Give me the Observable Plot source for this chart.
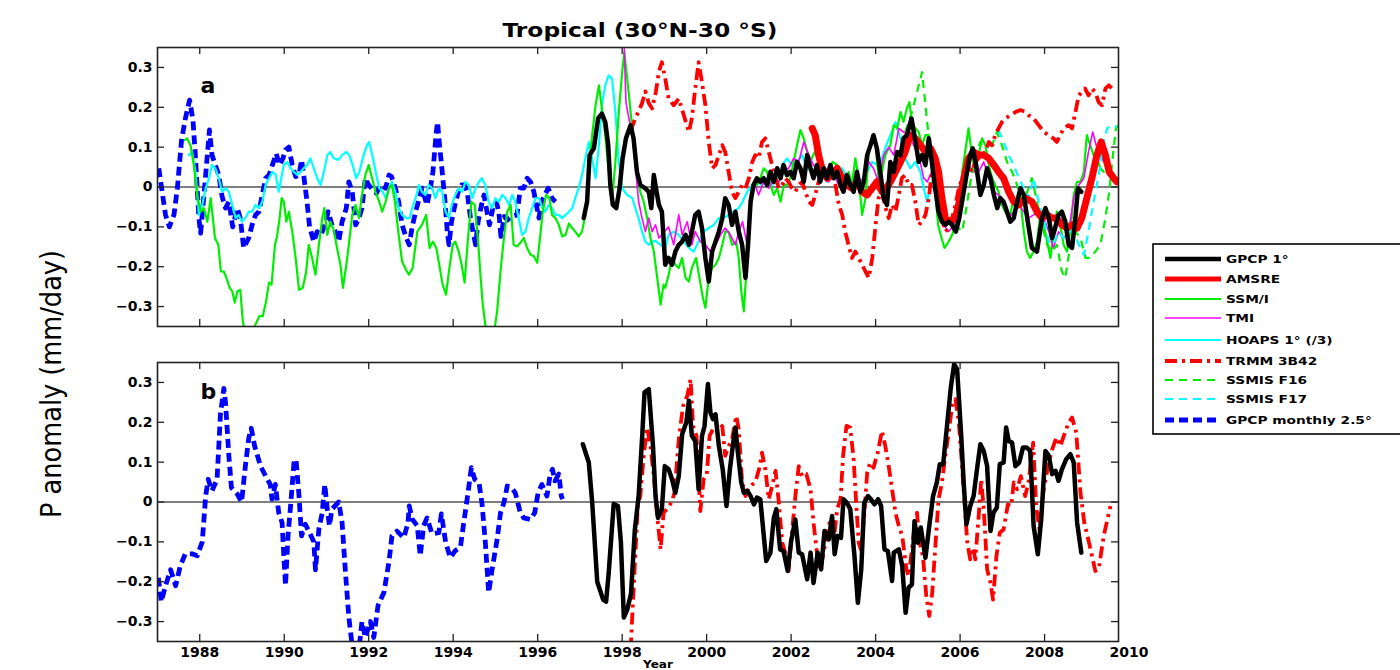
<!DOCTYPE html>
<html><head><meta charset="utf-8">
<script src="https://cdn.jsdelivr.net/npm/d3@7"></script>
<script src="https://cdn.jsdelivr.net/npm/@observablehq/plot@0.6"></script>
<style>
html,body{margin:0;padding:0;background:#fff;}
#wrap{position:relative;width:1400px;height:670px;overflow:hidden;background:#fff;}
#wrap > svg{position:absolute;left:0;}
</style></head><body><div id="wrap"></div>
<script>
// ---------- tick labels ----------
const xTicks = [1988,1990,1992,1994,1996,1998,2000,2002,2004,2006,2008,2010];
const yTicks = [-0.3,-0.2,-0.1,0,0.1,0.2,0.3];

// ---------- panel a : series [year, anomaly] ----------
const gpcp25A = [[1987.03,0.047],[1987.11,-0.012],[1987.19,-0.07],[1987.28,-0.1],[1987.39,-0.07],[1987.47,-0.003],[1987.57,0.118],[1987.66,0.172],[1987.76,0.218],[1987.84,0.168],[1987.9,0.072],[1987.98,-0.078],[1988.02,-0.116],[1988.1,-0.02],[1988.18,0.08],[1988.23,0.143],[1988.29,0.08],[1988.37,0.055],[1988.45,0.03],[1988.53,-0.024],[1988.61,-0.053],[1988.69,-0.037],[1988.78,-0.1],[1988.89,-0.053],[1988.96,-0.078],[1989.04,-0.153],[1989.16,-0.128],[1989.24,-0.095],[1989.32,-0.07],[1989.4,-0.062],[1989.48,-0.02],[1989.56,0.022],[1989.64,0.03],[1989.72,0.055],[1989.81,0.084],[1989.89,0.055],[1989.97,0.072],[1990.03,0.093],[1990.11,0.1],[1990.19,0.055],[1990.27,0.026],[1990.35,0.03],[1990.41,0.068],[1990.46,0.03],[1990.54,-0.037],[1990.6,-0.1],[1990.7,-0.137],[1990.78,-0.112],[1990.87,-0.12],[1990.96,-0.095],[1991.04,-0.062],[1991.13,-0.095],[1991.21,-0.112],[1991.29,-0.137],[1991.37,-0.087],[1991.47,-0.053],[1991.53,0.013],[1991.61,-0.012],[1991.69,-0.095],[1991.77,-0.078],[1991.84,-0.053],[1991.92,0.022],[1992.0,0.005],[1992.1,-0.008],[1992.18,-0.016],[1992.28,0.005],[1992.4,-0.003],[1992.48,0.03],[1992.54,0.026],[1992.63,-0.003],[1992.71,-0.037],[1992.79,-0.095],[1992.89,-0.128],[1992.96,-0.145],[1993.03,-0.1],[1993.11,-0.062],[1993.2,-0.028],[1993.26,-0.003],[1993.33,-0.028],[1993.38,-0.045],[1993.46,-0.003],[1993.52,0.038],[1993.56,0.088],[1993.6,0.138],[1993.63,0.163],[1993.67,0.113],[1993.74,0.038],[1993.8,-0.028],[1993.86,-0.112],[1993.9,-0.145],[1993.96,-0.087],[1994.04,-0.045],[1994.12,-0.012],[1994.2,0.005],[1994.27,0.005],[1994.33,-0.012],[1994.41,-0.078],[1994.47,-0.112],[1994.53,-0.145],[1994.59,-0.087],[1994.67,-0.045],[1994.73,-0.02],[1994.8,-0.062],[1994.86,-0.095],[1994.94,-0.053],[1995.02,-0.037],[1995.08,-0.062],[1995.13,-0.124],[1995.21,-0.074],[1995.28,-0.083],[1995.38,-0.074],[1995.51,-0.07],[1995.59,-0.003],[1995.67,-0.003],[1995.75,0.022],[1995.83,0.013],[1995.91,-0.012],[1995.97,-0.045],[1996.03,-0.078],[1996.09,-0.037],[1996.17,-0.02],[1996.25,-0.003],[1996.34,-0.028],[1996.42,-0.037]];

const ssmiA = [[1987.65,0.118],[1987.7,0.122],[1987.78,0.105],[1987.86,0.055],[1987.94,-0.02],[1988.02,-0.062],[1988.1,-0.053],[1988.18,-0.087],[1988.26,-0.028],[1988.31,-0.078],[1988.36,-0.128],[1988.44,-0.145],[1988.5,-0.212],[1988.57,-0.212],[1988.63,-0.228],[1988.71,-0.253],[1988.77,-0.262],[1988.83,-0.29],[1988.89,-0.262],[1988.96,-0.258],[1989.02,-0.337],[1989.08,-0.37],[1989.2,-0.37],[1989.32,-0.345],[1989.41,-0.324],[1989.49,-0.324],[1989.57,-0.287],[1989.64,-0.24],[1989.7,-0.245],[1989.78,-0.145],[1989.83,-0.124],[1989.89,-0.078],[1989.94,-0.028],[1989.99,-0.037],[1990.05,-0.087],[1990.11,-0.062],[1990.19,-0.112],[1990.27,-0.178],[1990.35,-0.258],[1990.44,-0.253],[1990.52,-0.212],[1990.58,-0.145],[1990.66,-0.178],[1990.74,-0.22],[1990.82,-0.145],[1990.9,-0.078],[1990.95,-0.053],[1991.02,-0.12],[1991.09,-0.087],[1991.17,-0.107],[1991.25,-0.153],[1991.33,-0.195],[1991.39,-0.253],[1991.47,-0.195],[1991.53,-0.145],[1991.61,-0.07],[1991.69,-0.045],[1991.77,-0.078],[1991.84,-0.02],[1991.92,0.03],[1992.0,0.055],[1992.08,0.022],[1992.16,-0.012],[1992.25,-0.037],[1992.32,-0.062],[1992.4,-0.037],[1992.48,-0.003],[1992.55,0.005],[1992.62,-0.037],[1992.7,-0.112],[1992.79,-0.187],[1992.87,-0.205],[1992.95,-0.22],[1993.04,-0.203],[1993.15,-0.112],[1993.26,-0.095],[1993.36,-0.07],[1993.44,-0.153],[1993.52,-0.137],[1993.6,-0.153],[1993.67,-0.195],[1993.75,-0.245],[1993.83,-0.27],[1993.91,-0.203],[1993.99,-0.145],[1994.05,-0.137],[1994.13,-0.162],[1994.2,-0.195],[1994.27,-0.24],[1994.35,-0.128],[1994.43,-0.037],[1994.51,-0.045],[1994.59,-0.137],[1994.65,-0.228],[1994.7,-0.295],[1994.76,-0.345],[1994.84,-0.37],[1994.96,-0.37],[1995.04,-0.312],[1995.12,-0.212],[1995.2,-0.128],[1995.28,-0.062],[1995.36,-0.045],[1995.43,-0.145],[1995.51,-0.149],[1995.59,-0.14],[1995.67,-0.128],[1995.75,-0.153],[1995.83,-0.17],[1995.91,-0.174],[1995.99,-0.19],[1996.07,-0.112],[1996.12,-0.062],[1996.2,-0.02],[1996.28,-0.028],[1996.34,-0.07],[1996.42,-0.078],[1996.5,-0.095],[1996.58,-0.124],[1996.66,-0.12],[1996.74,-0.091],[1996.82,-0.103],[1996.89,-0.112],[1996.97,-0.124],[1997.05,-0.112],[1997.13,-0.07],[1997.21,0.047],[1997.29,0.13],[1997.37,0.205],[1997.45,0.255],[1997.52,0.197],[1997.6,0.13],[1997.68,0.038],[1997.76,-0.037],[1997.84,0.063],[1997.92,0.188],[1998.0,0.288],[1998.05,0.338],[1998.12,0.272],[1998.2,0.188],[1998.27,0.113],[1998.35,0.038],[1998.43,-0.012],[1998.51,-0.037],[1998.59,-0.078],[1998.67,-0.128],[1998.75,-0.162],[1998.83,-0.228],[1998.91,-0.295],[1998.98,-0.245],[1999.02,-0.253],[1999.1,-0.22],[1999.18,-0.178],[1999.26,-0.195],[1999.34,-0.203],[1999.42,-0.178],[1999.5,-0.228],[1999.58,-0.237],[1999.65,-0.203],[1999.75,-0.178],[1999.83,-0.228],[1999.91,-0.278],[1999.97,-0.303],[2000.05,-0.228],[2000.13,-0.203],[2000.21,-0.195],[2000.29,-0.178],[2000.37,-0.145],[2000.44,-0.112],[2000.52,-0.112],[2000.6,-0.145],[2000.7,-0.137],[2000.76,-0.178],[2000.82,-0.262],[2000.88,-0.312],[2000.96,-0.178],[2001.04,-0.037],[2001.11,-0.003],[2001.19,0.005],[2001.27,0.022],[2001.35,0.047],[2001.43,0.038],[2001.51,0.005],[2001.59,-0.02],[2001.67,-0.003],[2001.75,-0.037],[2001.83,0.005],[2001.9,0.005],[2001.98,0.022],[2002.06,0.063],[2002.14,0.105],[2002.22,0.143],[2002.3,0.122],[2002.38,0.088],[2002.45,0.063],[2002.56,0.088],[2002.65,0.105],[2002.73,0.063],[2002.83,0.022],[2002.91,0.038],[2002.98,0.063],[2003.09,0.055],[2003.19,0.038],[2003.28,-0.003],[2003.36,0.038],[2003.44,0.005],[2003.52,0.072],[2003.6,0.022],[2003.68,-0.07],[2003.76,-0.028],[2003.84,0.088],[2003.92,0.122],[2004.0,0.105],[2004.07,0.022],[2004.15,0.038],[2004.23,0.08],[2004.35,0.105],[2004.43,0.155],[2004.51,0.147],[2004.59,0.188],[2004.66,0.163],[2004.74,0.197],[2004.8,0.213],[2004.86,0.163],[2004.94,0.147],[2005.02,0.138],[2005.1,0.105],[2005.18,0.13],[2005.26,0.13],[2005.33,0.063],[2005.41,-0.012],[2005.48,-0.095],[2005.56,-0.128],[2005.63,-0.153],[2005.73,-0.137],[2005.81,-0.12],[2005.89,-0.095],[2005.97,-0.045],[2006.05,0.038],[2006.12,0.088],[2006.2,0.147],[2006.27,0.088],[2006.35,0.038],[2006.42,0.072],[2006.52,0.122],[2006.6,0.105],[2006.68,0.055],[2006.76,0.022],[2006.83,0.005],[2006.91,-0.012],[2006.99,-0.045],[2007.07,-0.062],[2007.17,-0.078],[2007.27,-0.028],[2007.35,-0.045],[2007.43,-0.037],[2007.51,-0.112],[2007.58,-0.162],[2007.66,-0.178],[2007.74,-0.162],[2007.82,-0.137],[2007.9,-0.07],[2007.98,-0.095],[2008.06,-0.137],[2008.14,-0.178],[2008.22,-0.112],[2008.29,-0.062],[2008.37,-0.095],[2008.45,-0.145],[2008.53,-0.162],[2008.61,-0.112],[2008.69,-0.02],[2008.77,0.013],[2008.85,0.013],[2008.93,0.038],[2009.0,0.13],[2009.08,0.105],[2009.16,0.08],[2009.24,0.072],[2009.32,0.047],[2009.4,0.038]];

const hoapsA = [[1987.74,0.08],[1987.82,0.088],[1987.9,0.038],[1987.98,-0.07],[1988.06,-0.045],[1988.14,-0.003],[1988.22,0.022],[1988.29,0.055],[1988.37,0.047],[1988.45,0.022],[1988.53,-0.012],[1988.61,-0.003],[1988.69,-0.012],[1988.77,-0.045],[1988.85,-0.078],[1988.92,-0.07],[1989.0,-0.087],[1989.08,-0.078],[1989.16,-0.062],[1989.24,-0.062],[1989.32,-0.045],[1989.4,-0.053],[1989.48,-0.037],[1989.56,0.005],[1989.64,0.022],[1989.72,0.038],[1989.8,0.03],[1989.87,-0.012],[1989.93,0.022],[1989.99,0.055],[1990.07,0.063],[1990.15,0.047],[1990.23,0.038],[1990.31,0.03],[1990.39,0.038],[1990.46,0.047],[1990.54,0.055],[1990.62,0.072],[1990.7,0.047],[1990.78,0.022],[1990.86,0.005],[1990.94,0.038],[1991.02,0.08],[1991.09,0.088],[1991.17,0.072],[1991.28,0.068],[1991.37,0.08],[1991.47,0.088],[1991.54,0.08],[1991.62,0.055],[1991.7,0.022],[1991.78,0.038],[1991.88,0.08],[1991.96,0.105],[1992.01,0.113],[1992.1,0.072],[1992.18,0.03],[1992.25,-0.003],[1992.33,-0.012],[1992.41,-0.028],[1992.48,-0.003],[1992.55,0.013],[1992.63,-0.012],[1992.71,-0.053],[1992.79,-0.07],[1992.89,-0.078],[1992.97,-0.078],[1993.03,-0.053],[1993.11,-0.028],[1993.19,0.005],[1993.26,-0.012],[1993.34,-0.02],[1993.42,0.005],[1993.5,-0.003],[1993.58,-0.028],[1993.66,-0.003],[1993.74,-0.012],[1993.82,-0.062],[1993.9,-0.078],[1993.97,-0.045],[1994.05,-0.02],[1994.13,-0.003],[1994.21,-0.012],[1994.29,0.013],[1994.37,0.005],[1994.45,-0.028],[1994.53,-0.003],[1994.61,0.013],[1994.68,0.022],[1994.76,0.005],[1994.84,-0.037],[1994.92,-0.053],[1995.0,-0.028],[1995.08,-0.037],[1995.16,-0.02],[1995.24,-0.028],[1995.32,-0.045],[1995.4,-0.02],[1995.47,-0.037],[1995.55,-0.078],[1995.63,-0.12],[1995.71,-0.112],[1995.79,-0.078],[1995.87,-0.053],[1995.95,-0.028],[1996.03,-0.028],[1996.11,-0.053],[1996.18,-0.062],[1996.26,-0.045],[1996.34,-0.053],[1996.42,-0.07],[1996.5,-0.07],[1996.58,-0.078],[1996.66,-0.07],[1996.74,-0.062],[1996.82,-0.053],[1996.89,-0.028],[1996.97,-0.003],[1997.05,0.03],[1997.13,0.072],[1997.21,0.113],[1997.29,0.072],[1997.37,0.022],[1997.45,0.105],[1997.52,0.205],[1997.6,0.255],[1997.68,0.28],[1997.76,0.272],[1997.84,0.188],[1997.92,0.063],[1998.0,-0.003],[1998.12,-0.02],[1998.24,-0.028],[1998.31,-0.053],[1998.39,-0.078],[1998.47,-0.112],[1998.55,-0.137],[1998.63,-0.145],[1998.71,-0.137],[1998.79,-0.135],[1998.91,-0.145],[1999.02,-0.153],[1999.1,-0.12],[1999.22,-0.112],[1999.34,-0.12],[1999.46,-0.137],[1999.58,-0.153],[1999.69,-0.162],[1999.81,-0.137],[1999.93,-0.112],[2000.05,-0.103],[2000.17,-0.095],[2000.29,-0.078],[2000.4,-0.078],[2000.52,-0.07],[2000.64,-0.062],[2000.76,-0.053],[2000.85,-0.037],[2000.96,-0.012],[2001.08,0.005],[2001.19,0.013],[2001.31,0.005],[2001.43,0.022],[2001.55,0.005],[2001.67,0.022],[2001.79,0.055],[2001.9,0.072],[2002.02,0.055],[2002.14,0.063],[2002.26,0.08],[2002.38,0.047],[2002.5,0.038],[2002.61,0.03],[2002.73,0.038],[2002.85,0.013],[2002.97,0.03],[2003.09,0.022],[2003.21,0.047],[2003.32,0.022],[2003.44,0.005],[2003.56,0.03],[2003.68,0.013],[2003.8,0.038],[2003.92,0.063],[2004.03,0.055],[2004.15,0.072],[2004.27,0.11],[2004.35,0.13],[2004.47,0.163],[2004.59,0.122],[2004.7,0.072],[2004.82,0.047],[2004.94,0.063],[2005.06,0.038],[2005.14,-0.003],[2005.22,-0.037],[2005.3,0.005],[2005.38,0.022]];

const tmiA = [[1998.05,0.347],[1998.09,0.213],[1998.16,0.172],[1998.24,0.13],[1998.31,0.055],[1998.39,-0.037],[1998.47,-0.078],[1998.55,-0.112],[1998.63,-0.078],[1998.71,-0.112],[1998.79,-0.095],[1998.87,-0.128],[1998.94,-0.12],[1999.1,-0.1],[1999.22,-0.145],[1999.34,-0.07],[1999.42,-0.12],[1999.54,-0.087],[1999.65,-0.145],[1999.73,-0.112],[1999.85,-0.137],[1999.97,-0.145],[2000.09,-0.162],[2000.21,-0.145],[2000.33,-0.12],[2000.44,-0.103],[2000.56,-0.12],[2000.68,-0.145],[2000.76,-0.112],[2000.85,-0.087],[2000.96,-0.145],[2001.08,-0.02],[2001.15,0.005],[2001.23,-0.02],[2001.35,0.013],[2001.47,-0.003],[2001.59,0.022],[2001.71,0.013],[2001.82,0.038],[2001.94,0.047],[2002.06,0.072],[2002.18,0.063],[2002.3,0.113],[2002.42,0.08],[2002.53,0.055],[2002.65,0.038],[2002.77,0.038],[2002.89,0.013],[2003.01,0.03],[2003.13,0.005],[2003.24,-0.003],[2003.36,0.005],[2003.48,-0.012],[2003.6,0.022],[2003.72,0.013],[2003.84,0.063],[2003.95,0.047],[2004.07,0.013],[2004.19,0.08],[2004.31,0.1],[2004.43,0.08],[2004.55,0.147],[2004.66,0.138],[2004.78,0.13],[2004.9,0.105],[2005.02,0.08],[2005.14,0.022],[2005.22,0.013],[2005.33,0.038],[2005.41,0.005],[2005.49,-0.045],[2005.61,-0.095],[2005.73,-0.112],[2005.85,-0.095],[2005.97,-0.062],[2006.09,0.005],[2006.2,0.055],[2006.32,0.038],[2006.44,0.038],[2006.56,0.063],[2006.68,0.022],[2006.8,-0.012],[2006.91,-0.02],[2007.03,-0.045],[2007.15,-0.078],[2007.27,-0.062],[2007.39,-0.045],[2007.51,-0.062],[2007.62,-0.078],[2007.74,-0.07],[2007.86,-0.053],[2007.98,-0.078],[2008.1,-0.112],[2008.21,-0.153],[2008.33,-0.112],[2008.45,-0.128],[2008.57,-0.112],[2008.69,-0.028],[2008.81,0.005],[2008.93,0.022],[2009.04,0.088],[2009.14,0.138],[2009.24,0.097],[2009.36,0.072],[2009.48,0.047],[2009.6,0.038]];

const trmmA = [[1998.2,0.14],[1998.3,0.17],[1998.39,0.19],[1998.47,0.21],[1998.55,0.24],[1998.63,0.21],[1998.71,0.197],[1998.8,0.24],[1998.87,0.29],[1998.94,0.313],[1999.02,0.272],[1999.1,0.222],[1999.22,0.205],[1999.34,0.222],[1999.46,0.18],[1999.58,0.138],[1999.65,0.172],[1999.73,0.247],[1999.81,0.313],[1999.89,0.263],[1999.97,0.205],[2000.05,0.113],[2000.13,0.047],[2000.21,0.055],[2000.29,0.08],[2000.37,0.105],[2000.44,0.088],[2000.52,0.038],[2000.6,-0.012],[2000.68,-0.028],[2000.76,-0.012],[2000.84,0.005],[2000.92,-0.003],[2001.0,0.022],[2001.08,0.063],[2001.15,0.08],[2001.23,0.072],[2001.31,0.113],[2001.39,0.122],[2001.47,0.088],[2001.55,0.055],[2001.63,0.022],[2001.71,-0.003],[2001.79,0.005],[2001.86,0.022],[2001.94,0.013],[2002.02,-0.003],[2002.1,-0.012],[2002.18,0.005],[2002.26,0.013],[2002.34,-0.012],[2002.42,-0.037],[2002.5,-0.045],[2002.57,-0.02],[2002.65,0.013],[2002.73,0.038],[2002.81,0.055],[2002.89,0.038],[2002.97,0.047],[2003.05,0.005],[2003.13,-0.045],[2003.21,-0.07],[2003.28,-0.112],[2003.36,-0.145],[2003.44,-0.178],[2003.52,-0.162],[2003.6,-0.178],[2003.68,-0.195],[2003.76,-0.212],[2003.84,-0.228],[2003.92,-0.178],[2004.0,-0.095],[2004.07,-0.028],[2004.15,-0.012],[2004.23,-0.05],[2004.31,-0.078],[2004.39,-0.045],[2004.47,-0.062],[2004.55,-0.02],[2004.62,0.022],[2004.7,0.03],[2004.78,0.005],[2004.86,0.005],[2004.94,-0.037],[2005.02,-0.095],[2005.1,-0.087],[2005.18,-0.07],[2005.26,-0.028],[2005.33,0.038],[2005.41,0.047],[2005.49,0.005],[2005.57,-0.078],[2005.65,-0.112],[2005.73,-0.103],[2005.81,-0.078],[2005.89,-0.045],[2005.97,-0.003],[2006.05,0.022],[2006.12,0.038],[2006.2,0.055],[2006.28,0.038],[2006.36,0.063],[2006.44,0.072],[2006.52,0.08],[2006.6,0.088],[2006.68,0.113],[2006.76,0.105],[2006.83,0.13],[2006.91,0.147],[2006.99,0.163],[2007.07,0.172],[2007.19,0.18],[2007.31,0.188],[2007.43,0.193],[2007.55,0.188],[2007.62,0.18],[2007.74,0.172],[2007.86,0.155],[2007.98,0.138],[2008.1,0.13],[2008.21,0.122],[2008.29,0.113],[2008.37,0.13],[2008.45,0.147],[2008.57,0.155],[2008.65,0.147],[2008.73,0.188],[2008.81,0.23],[2008.88,0.238],[2008.96,0.247],[2009.04,0.23],[2009.12,0.247],[2009.2,0.238],[2009.28,0.213],[2009.36,0.205],[2009.44,0.247],[2009.52,0.255],[2009.6,0.247]];

const amsreA = [[2002.5,0.147],[2002.57,0.13],[2002.65,0.08],[2002.73,0.047],[2002.85,0.022],[2002.97,0.03],[2003.09,0.047],[2003.21,0.022],[2003.32,0.005],[2003.44,-0.003],[2003.56,0.013],[2003.68,-0.012],[2003.8,-0.02],[2003.92,-0.003],[2004.03,0.013],[2004.15,-0.012],[2004.27,0.0],[2004.35,0.013],[2004.47,0.038],[2004.59,0.063],[2004.7,0.088],[2004.82,0.13],[2004.94,0.122],[2005.06,0.105],[2005.18,0.088],[2005.3,0.097],[2005.41,0.072],[2005.49,0.038],[2005.57,-0.028],[2005.65,-0.078],[2005.77,-0.087],[2005.89,-0.078],[2005.98,-0.037],[2006.09,0.022],[2006.2,0.072],[2006.32,0.088],[2006.44,0.08],[2006.56,0.08],[2006.68,0.072],[2006.8,0.055],[2006.91,0.038],[2007.03,0.022],[2007.15,-0.012],[2007.27,-0.037],[2007.39,-0.045],[2007.55,-0.028],[2007.7,-0.037],[2007.82,-0.062],[2007.94,-0.078],[2008.06,-0.07],[2008.18,-0.078],[2008.29,-0.078],[2008.41,-0.095],[2008.53,-0.103],[2008.65,-0.095],[2008.77,-0.103],[2008.88,-0.078],[2009.0,-0.028],[2009.12,0.022],[2009.24,0.08],[2009.34,0.113],[2009.44,0.08],[2009.53,0.038],[2009.64,0.022],[2009.71,0.013]];

const f16A = [[2004.7,0.138],[2004.86,0.188],[2004.98,0.238],[2005.1,0.288],[2005.18,0.205],[2005.26,0.122],[2005.38,0.047],[2005.49,-0.02],[2005.61,-0.078],[2005.73,-0.095],[2005.89,-0.095],[2006.05,-0.112],[2006.16,-0.045],[2006.27,0.03],[2006.36,0.08],[2006.48,0.113],[2006.6,0.08],[2006.76,0.105],[2006.87,0.138],[2006.99,0.105],[2007.11,0.063],[2007.23,0.038],[2007.35,0.005],[2007.47,-0.037],[2007.59,-0.012],[2007.7,0.022],[2007.82,-0.037],[2007.94,-0.095],[2008.06,-0.145],[2008.18,-0.162],[2008.29,-0.145],[2008.41,-0.212],[2008.49,-0.228],[2008.61,-0.145],[2008.73,-0.112],[2008.85,-0.128],[2008.97,-0.178],[2009.08,-0.178],[2009.2,-0.162],[2009.32,-0.145],[2009.44,-0.078],[2009.53,-0.012],[2009.61,0.072],[2009.69,0.147],[2009.74,0.155]];

const f17A = [[2006.91,0.143],[2007.03,0.113],[2007.15,0.08],[2007.27,0.055],[2007.39,0.022],[2007.51,-0.003],[2007.62,-0.028],[2007.74,0.022],[2007.86,-0.037],[2007.98,-0.078],[2008.1,-0.137],[2008.21,-0.145],[2008.33,-0.112],[2008.45,-0.128],[2008.57,-0.112],[2008.69,-0.112],[2008.81,-0.145],[2008.93,-0.17],[2009.04,-0.112],[2009.16,-0.037],[2009.28,0.03],[2009.4,0.113],[2009.48,0.147],[2009.6,0.155],[2009.71,0.15]];

const gpcp1A = [[1997.09,-0.078],[1997.17,-0.037],[1997.23,0.08],[1997.33,0.097],[1997.43,0.172],[1997.52,0.184],[1997.6,0.163],[1997.67,0.105],[1997.72,0.005],[1997.78,-0.045],[1997.86,-0.053],[1997.94,-0.003],[1998.01,0.072],[1998.09,0.122],[1998.2,0.155],[1998.27,0.122],[1998.35,0.038],[1998.43,0.005],[1998.54,-0.003],[1998.63,-0.012],[1998.69,-0.053],[1998.75,0.03],[1998.8,-0.003],[1998.87,-0.045],[1998.94,-0.062],[1999.02,-0.195],[1999.1,-0.178],[1999.18,-0.195],[1999.26,-0.162],[1999.34,-0.145],[1999.42,-0.137],[1999.5,-0.12],[1999.58,-0.145],[1999.65,-0.112],[1999.73,-0.07],[1999.81,-0.062],[1999.89,-0.103],[1999.97,-0.178],[2000.05,-0.237],[2000.13,-0.162],[2000.21,-0.137],[2000.29,-0.112],[2000.37,-0.078],[2000.44,-0.028],[2000.52,-0.045],[2000.6,-0.095],[2000.68,-0.062],[2000.76,-0.112],[2000.84,-0.145],[2000.92,-0.228],[2000.98,-0.145],[2001.04,-0.037],[2001.11,0.005],[2001.19,0.022],[2001.27,0.013],[2001.35,0.022],[2001.43,0.005],[2001.51,0.038],[2001.59,0.013],[2001.67,0.047],[2001.75,0.022],[2001.82,0.055],[2001.9,0.03],[2001.98,0.038],[2002.06,0.022],[2002.14,0.063],[2002.22,0.047],[2002.3,0.013],[2002.38,0.08],[2002.46,0.047],[2002.53,0.022],[2002.61,0.055],[2002.69,0.013],[2002.77,0.047],[2002.85,0.022],[2002.93,0.055],[2003.01,0.022],[2003.09,0.038],[2003.17,0.005],[2003.24,-0.012],[2003.32,0.03],[2003.4,0.005],[2003.48,-0.012],[2003.56,0.038],[2003.64,-0.012],[2003.72,0.013],[2003.8,0.08],[2003.88,0.105],[2003.95,0.13],[2004.03,0.097],[2004.11,0.038],[2004.19,-0.028],[2004.27,-0.045],[2004.35,0.063],[2004.43,0.038],[2004.51,0.088],[2004.59,0.08],[2004.66,0.122],[2004.74,0.13],[2004.85,0.172],[2004.93,0.122],[2005.02,0.063],[2005.1,0.08],[2005.18,0.055],[2005.26,0.122],[2005.33,0.063],[2005.41,-0.003],[2005.49,-0.062],[2005.57,-0.087],[2005.65,-0.095],[2005.73,-0.087],[2005.81,-0.095],[2005.9,-0.112],[2005.98,-0.078],[2006.06,-0.028],[2006.14,0.022],[2006.22,0.072],[2006.3,0.097],[2006.38,0.055],[2006.48,-0.02],[2006.56,0.005],[2006.64,0.047],[2006.72,0.022],[2006.8,-0.02],[2006.88,-0.053],[2006.95,-0.028],[2007.03,-0.037],[2007.11,-0.062],[2007.19,-0.087],[2007.27,-0.078],[2007.35,-0.037],[2007.43,-0.003],[2007.51,-0.02],[2007.59,-0.078],[2007.7,-0.153],[2007.82,-0.162],[2007.94,-0.078],[2008.02,-0.053],[2008.1,-0.078],[2008.18,-0.128],[2008.25,-0.103],[2008.33,-0.07],[2008.41,-0.062],[2008.49,-0.087],[2008.57,-0.145],[2008.65,-0.153],[2008.73,-0.078],[2008.79,-0.003],[2008.87,-0.012]];

// ---------- panel b ----------
const gpcp25B = [[1987.02,-0.19],[1987.09,-0.25],[1987.19,-0.21],[1987.31,-0.17],[1987.43,-0.21],[1987.54,-0.16],[1987.66,-0.13],[1987.82,-0.13],[1987.94,-0.135],[1988.06,-0.1],[1988.14,0.015],[1988.2,0.057],[1988.29,0.028],[1988.41,0.057],[1988.49,0.22],[1988.57,0.285],[1988.61,0.25],[1988.69,0.115],[1988.75,0.036],[1988.89,0.02],[1988.99,0.0],[1989.08,0.09],[1989.16,0.16],[1989.22,0.185],[1989.3,0.14],[1989.44,0.09],[1989.56,0.065],[1989.67,0.044],[1989.71,0.007],[1989.79,0.044],[1989.87,-0.027],[1989.95,-0.052],[1989.99,-0.135],[1990.03,-0.21],[1990.09,-0.085],[1990.15,-0.01],[1990.23,0.098],[1990.28,0.107],[1990.35,0.015],[1990.41,-0.085],[1990.5,-0.056],[1990.6,-0.077],[1990.7,-0.1],[1990.74,-0.17],[1990.82,-0.068],[1990.9,-0.027],[1990.96,0.044],[1991.02,-0.018],[1991.07,-0.06],[1991.13,-0.018],[1991.29,0.0],[1991.37,-0.052],[1991.45,-0.177],[1991.53,-0.29],[1991.62,-0.37],[1991.77,-0.37],[1991.84,-0.3],[1991.92,-0.34],[1992.04,-0.3],[1992.12,-0.34],[1992.22,-0.26],[1992.36,-0.227],[1992.48,-0.15],[1992.55,-0.085],[1992.67,-0.073],[1992.83,-0.09],[1992.93,-0.052],[1992.96,-0.01],[1993.03,-0.043],[1993.15,-0.06],[1993.22,-0.135],[1993.3,-0.06],[1993.38,-0.04],[1993.5,-0.08],[1993.66,-0.077],[1993.72,-0.03],[1993.82,-0.1],[1993.93,-0.14],[1994.05,-0.122],[1994.17,-0.114],[1994.25,-0.052],[1994.33,0.007],[1994.43,0.086],[1994.51,0.057],[1994.61,0.049],[1994.68,-0.002],[1994.76,-0.1],[1994.84,-0.227],[1994.92,-0.17],[1995.04,-0.094],[1995.12,-0.027],[1995.2,-0.002],[1995.28,0.04],[1995.38,0.036],[1995.47,0.023],[1995.59,-0.027],[1995.67,-0.04],[1995.83,-0.044],[1995.93,-0.027],[1996.01,0.023],[1996.1,0.044],[1996.22,0.015],[1996.29,0.065],[1996.35,0.082],[1996.41,0.053],[1996.5,0.07],[1996.56,0.015],[1996.59,0.007]];

const gpcp1B = [[1997.07,0.145],[1997.21,0.099],[1997.29,0.0],[1997.41,-0.2],[1997.55,-0.245],[1997.62,-0.25],[1997.68,-0.18],[1997.8,-0.005],[1997.9,-0.01],[1997.97,-0.1],[1998.04,-0.29],[1998.12,-0.27],[1998.21,-0.23],[1998.3,-0.07],[1998.39,0.015],[1998.47,0.157],[1998.53,0.275],[1998.63,0.283],[1998.73,0.14],[1998.79,0.015],[1998.85,-0.04],[1998.94,-0.018],[1999.01,0.09],[1999.1,0.082],[1999.18,0.057],[1999.26,0.023],[1999.34,0.065],[1999.42,0.17],[1999.52,0.2],[1999.58,0.254],[1999.65,0.166],[1999.73,0.153],[1999.81,0.032],[1999.89,0.166],[1999.95,0.19],[2000.03,0.296],[2000.09,0.224],[2000.15,0.208],[2000.21,0.22],[2000.29,0.14],[2000.38,0.082],[2000.47,-0.01],[2000.55,0.082],[2000.63,0.15],[2000.68,0.187],[2000.74,0.124],[2000.82,0.049],[2000.88,0.023],[2000.96,0.028],[2001.04,0.015],[2001.12,-0.006],[2001.19,0.011],[2001.27,0.007],[2001.41,-0.148],[2001.51,-0.127],[2001.59,-0.04],[2001.65,-0.018],[2001.74,-0.119],[2001.82,-0.123],[2001.92,-0.173],[2002.0,-0.098],[2002.1,-0.044],[2002.18,-0.127],[2002.26,-0.131],[2002.38,-0.194],[2002.46,-0.127],[2002.53,-0.203],[2002.63,-0.127],[2002.71,-0.169],[2002.79,-0.073],[2002.89,-0.094],[2002.97,-0.035],[2003.03,-0.131],[2003.1,-0.085],[2003.18,-0.09],[2003.24,0.007],[2003.32,-0.002],[2003.4,-0.018],[2003.5,-0.136],[2003.58,-0.253],[2003.66,-0.169],[2003.73,-0.002],[2003.82,0.015],[2003.89,0.007],[2003.97,-0.006],[2004.06,0.007],[2004.13,-0.01],[2004.21,-0.119],[2004.29,-0.123],[2004.39,-0.198],[2004.43,-0.127],[2004.55,-0.119],[2004.63,-0.16],[2004.71,-0.278],[2004.78,-0.215],[2004.86,-0.207],[2004.92,-0.048],[2005.0,-0.102],[2005.07,-0.064],[2005.18,-0.14],[2005.27,-0.06],[2005.36,0.015],[2005.45,0.049],[2005.52,0.095],[2005.6,0.095],[2005.69,0.191],[2005.78,0.287],[2005.86,0.346],[2005.93,0.333],[2006.02,0.178],[2006.09,0.04],[2006.15,-0.056],[2006.24,-0.01],[2006.32,0.015],[2006.4,0.082],[2006.48,0.145],[2006.56,0.128],[2006.64,0.09],[2006.72,-0.073],[2006.79,-0.027],[2006.87,-0.014],[2006.94,0.095],[2007.03,0.099],[2007.09,0.187],[2007.15,0.153],[2007.23,0.149],[2007.31,0.09],[2007.4,0.099],[2007.49,0.137],[2007.57,0.137],[2007.66,0.128],[2007.74,-0.06],[2007.84,-0.131],[2007.92,-0.044],[2008.02,0.128],[2008.1,0.116],[2008.18,0.07],[2008.26,0.078],[2008.33,0.053],[2008.41,0.082],[2008.51,0.107],[2008.61,0.12],[2008.69,0.099],[2008.77,-0.052],[2008.87,-0.127]];

const trmmB = [[1998.2,-0.37],[1998.31,-0.136],[1998.37,-0.01],[1998.43,0.015],[1998.51,0.116],[1998.59,0.187],[1998.67,0.14],[1998.75,0.065],[1998.83,-0.035],[1998.91,-0.119],[1998.98,-0.027],[1999.06,-0.018],[1999.16,-0.002],[1999.24,0.023],[1999.34,0.157],[1999.44,0.24],[1999.54,0.266],[1999.62,0.308],[1999.68,0.19],[1999.76,0.166],[1999.85,-0.023],[1999.93,0.057],[2000.0,0.065],[2000.07,0.166],[2000.17,0.187],[2000.26,0.2],[2000.37,0.19],[2000.44,0.116],[2000.52,0.14],[2000.6,0.157],[2000.7,0.216],[2000.76,0.183],[2000.84,0.049],[2000.92,0.015],[2001.0,0.036],[2001.08,0.044],[2001.15,0.049],[2001.26,0.09],[2001.31,0.124],[2001.39,0.082],[2001.47,0.007],[2001.55,0.04],[2001.63,0.078],[2001.71,-0.002],[2001.79,-0.102],[2001.86,-0.127],[2001.94,-0.173],[2002.02,-0.077],[2002.1,0.015],[2002.18,0.09],[2002.26,0.065],[2002.36,0.07],[2002.46,0.032],[2002.53,-0.052],[2002.61,-0.127],[2002.69,-0.169],[2002.77,-0.127],[2002.87,-0.064],[2002.94,-0.044],[2003.01,-0.094],[2003.09,-0.018],[2003.17,0.007],[2003.23,0.116],[2003.31,0.191],[2003.4,0.187],[2003.48,0.107],[2003.54,-0.002],[2003.6,-0.102],[2003.65,-0.119],[2003.73,-0.035],[2003.8,0.074],[2003.87,0.099],[2003.95,0.086],[2004.05,0.124],[2004.15,0.178],[2004.23,0.14],[2004.31,0.09],[2004.39,0.032],[2004.47,-0.027],[2004.55,-0.06],[2004.63,-0.085],[2004.73,-0.169],[2004.78,-0.186],[2004.86,-0.119],[2004.92,-0.06],[2004.98,-0.027],[2005.04,-0.102],[2005.12,-0.136],[2005.2,-0.236],[2005.27,-0.286],[2005.34,-0.228],[2005.42,-0.102],[2005.49,0.007],[2005.57,0.049],[2005.65,0.116],[2005.73,0.174],[2005.81,0.241],[2005.89,0.258],[2005.97,0.2],[2006.04,0.099],[2006.1,0.007],[2006.17,-0.102],[2006.24,-0.144],[2006.31,-0.115],[2006.36,-0.144],[2006.44,-0.035],[2006.5,0.057],[2006.56,-0.018],[2006.64,-0.169],[2006.72,-0.203],[2006.78,-0.245],[2006.86,-0.136],[2006.94,-0.077],[2007.03,-0.069],[2007.13,-0.006],[2007.21,-0.01],[2007.27,0.049],[2007.35,0.032],[2007.44,0.065],[2007.54,0.015],[2007.62,0.049],[2007.73,0.149],[2007.8,-0.01],[2007.88,-0.069],[2007.98,0.032],[2008.1,0.099],[2008.18,0.132],[2008.28,0.162],[2008.37,0.14],[2008.47,0.17],[2008.57,0.2],[2008.65,0.212],[2008.75,0.174],[2008.85,0.023],[2008.94,-0.052],[2009.07,-0.11],[2009.2,-0.173],[2009.28,-0.169],[2009.4,-0.085],[2009.56,-0.01]];

// ---------- series styles (legend order) ----------
const seriesNames = ["GPCP 1°","AMSRE","SSM/I","TMI","HOAPS 1° (/3)","TRMM 3B42","SSMIS F16","SSMIS F17","GPCP monthly 2.5°"];
const seriesColors = ["#000000","#ff0000","#00ee00","#ff00ff","#00ffff","#ff0000","#00ee00","#00ffff","#0000ff"];
const seriesWidths = [4.5,7,2.2,1.6,2.2,3.8,2.2,2.2,4.8];
const seriesDashes = [null,null,null,null,null,"12,5,3,5","8,6","8,6","9,5"];
const style = Object.fromEntries(seriesNames.map((n,i)=>[n,{color:seriesColors[i],width:seriesWidths[i],dash:seriesDashes[i]}]));

const panelA = [["GPCP monthly 2.5°",gpcp25A],["HOAPS 1° (/3)",hoapsA],["SSM/I",ssmiA],["TMI",tmiA],["SSMIS F16",f16A],["SSMIS F17",f17A],["TRMM 3B42",trmmA],["AMSRE",amsreA],["GPCP 1°",gpcp1A]];
const panelB = [["GPCP monthly 2.5°",gpcp25B],["TRMM 3B42",trmmB],["GPCP 1°",gpcp1B]];

// ---------- layout ----------
const W = 1400, ML = 157, MR = 282, TICK = 7;
const xDomain = [1987, 2009.75], yDomain = [-0.35, 0.35];
const fmtY = d => d === 0 ? "0" : (d < 0 ? "\u2212" : "") + Math.abs(d).toFixed(1);
const wrap = document.getElementById("wrap");

function panel({top, height, marginTop, marginBottom, series, letter, letterDy, showX}) {
  const fw = W - ML - MR, fh = height - marginTop - marginBottom;
  const inX = xTicks.filter(t => t <= xDomain[1]);
  const marks = [
    Plot.ruleY([0], {stroke: "#000", strokeWidth: 1.2}),
    ...series.map(([name, data]) => {
      const s = style[name];
      return Plot.line(data, {x: d => d[0], y: d => d[1], stroke: s.color, strokeWidth: s.width,
        strokeDasharray: s.dash || undefined, strokeLinecap: s.dash ? "butt" : "round", strokeLinejoin: "round", clip: true});
    }),
    Plot.frame({stroke: "#222", strokeWidth: 1.6}),
    Plot.tickX(inX, {x: d => d, insetTop: fh - TICK, stroke: "#222", strokeWidth: 1.3}),
    Plot.tickX(inX, {x: d => d, insetBottom: fh - TICK, stroke: "#222", strokeWidth: 1.3}),
    Plot.tickY(yTicks, {y: d => d, insetRight: fw - TICK, stroke: "#222", strokeWidth: 1.3}),
    Plot.tickY(yTicks, {y: d => d, insetLeft: fw - TICK, stroke: "#222", strokeWidth: 1.3}),
    Plot.axisY(yTicks, {anchor: "left", tickSize: 0, tickPadding: 5, tickFormat: fmtY, label: null}),
    Plot.text([letter], {frameAnchor: "top-left", dx: 43, dy: letterDy, textAnchor: "start", lineAnchor: "middle", fontSize: 22, fontWeight: "bold"})
  ];
  if (showX) marks.push(Plot.axisX(xTicks, {anchor: "bottom", tickSize: 0, tickPadding: 6, tickFormat: d => String(d), label: null}));
  const svg = Plot.plot({
    width: W, height, marginLeft: ML, marginRight: MR, marginTop, marginBottom,
    x: {domain: xDomain, axis: showX ? undefined : null},
    y: {domain: yDomain},
    style: {fontFamily: "DejaVu Sans", fontSize: "14px", fontWeight: "bold", color: "#000", background: "transparent", overflow: "visible"},
    marks
  });
  svg.style.top = top + "px";
  wrap.appendChild(svg);
}

panel({top: 0, height: 336, marginTop: 47, marginBottom: 10, series: panelA, letter: "a", letterDy: 38, showX: false});
panel({top: 336, height: 334, marginTop: 26, marginBottom: 29, series: panelB, letter: "b", letterDy: 29, showX: true});

// ---------- overlay: title, axis titles, legend ----------
const ov = d3.select(wrap).append("svg").attr("width", W).attr("height", 670).style("top", "0px");
ov.append("text").attr("x", 640).attr("y", 37).attr("text-anchor", "middle")
  .attr("font-family", "DejaVu Sans").attr("font-weight", "bold").attr("font-size", 19)
  .attr("textLength", 275).attr("lengthAdjust", "spacingAndGlyphs")
  .text("Tropical (30°N-30 °S)");
ov.append("text").attr("transform", "translate(61,384) rotate(-90)").attr("text-anchor", "middle")
  .attr("font-family", "DejaVu Sans").attr("font-size", 29)
  .attr("textLength", 268).attr("lengthAdjust", "spacingAndGlyphs")
  .text("P anomaly (mm/day)");
ov.append("text").attr("x", 658).attr("y", 668).attr("text-anchor", "middle")
  .attr("font-family", "DejaVu Sans").attr("font-weight", "bold").attr("font-size", 11)
  .attr("textLength", 30).attr("lengthAdjust", "spacingAndGlyphs")
  .text("Year");

const lg = ov.append("g");
lg.append("rect").attr("x", 1153).attr("y", 244).attr("width", 280).attr("height", 190)
  .attr("fill", "#fff").attr("stroke", "#000").attr("stroke-width", 1.6);
const rowY = [259, 279, 299, 318, 340, 361, 380, 399, 420];
seriesNames.forEach((n, i) => {
  const s = style[n];
  lg.append("line").attr("x1", 1165).attr("x2", 1221).attr("y1", rowY[i]).attr("y2", rowY[i])
    .attr("stroke", s.color).attr("stroke-width", Math.min(s.width, 5))
    .attr("stroke-dasharray", s.dash).attr("stroke-linecap", "butt");
  lg.append("text").attr("transform", `translate(1226,${rowY[i] + 4}) scale(1.25,1)`)
    .attr("font-family", "DejaVu Sans").attr("font-weight", "bold").attr("font-size", 11)
    .text(n);
});
</script></body></html>
